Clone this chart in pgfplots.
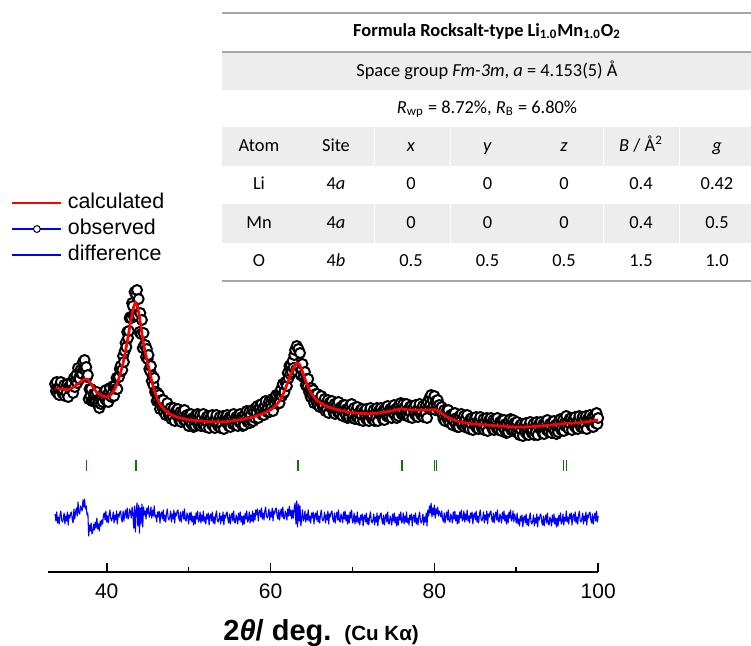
\documentclass[border=0pt]{standalone}
\usepackage{pgfplots}
\pgfplotsset{compat=1.18}
\usepackage{pgfplotstable}
\usepackage{fontspec}
\setmainfont{Liberation Sans}
\newfontfamily\calibri{Carlito}
\definecolor{bragg}{RGB}{0,128,0}
\definecolor{tgray}{RGB}{237,237,237}
\definecolor{trule}{RGB}{166,166,166}

% calculated profile
\pgfplotstableread{
x calc
33.75 257
34.00 257
34.25 256
34.50 256
34.75 256
35.00 255
35.25 255
35.50 256
35.75 257
36.00 258
36.25 260
36.50 261
36.75 263
37.00 264
37.25 266
37.50 266
37.75 265
38.00 262
38.25 259
38.50 256
38.75 253
39.00 251
39.25 250
39.50 249
39.75 248
40.00 248
40.25 249
40.50 250
40.75 253
41.00 256
41.25 261
41.50 267
41.75 274
42.00 282
42.25 292
42.50 303
42.75 315
43.00 327
43.25 337
43.50 343
43.75 339
44.00 328
44.25 314
44.50 301
44.75 291
45.00 282
45.25 273
45.50 264
45.75 256
46.00 250
46.25 245
46.50 241
46.75 238
47.00 236
47.25 234
47.50 232
47.75 231
48.00 230
48.50 228
49.00 227
49.50 226
50.00 225
51.00 224.5
52.00 223.5
53.00 223.2
54.00 223
55.00 223.7
56.00 224.8
57.00 226.3
57.50 227.3
58.00 228.4
58.50 229.7
59.00 231.2
59.50 233
60.00 235.2
60.25 236.6
60.50 238.3
60.75 240.4
61.00 243
61.25 246
61.50 250
61.75 255
62.00 260.5
62.25 266
62.50 271.5
62.75 276.5
63.00 280
63.25 282
63.50 281
63.75 277
64.00 271
64.25 265
64.50 259.5
64.75 255
65.00 251.5
65.25 248.5
65.50 246
65.75 244
66.00 242.5
66.50 240
67.00 238.2
67.50 236.8
68.00 235.6
68.50 234.6
69.00 233.8
69.50 233
70.00 232.4
71.00 231.6
72.00 231.3
73.00 231.9
74.00 233
74.50 233.7
75.00 234.5
75.50 235.5
76.00 236.2
76.50 235.6
77.00 235
78.00 234.9
79.00 235
79.50 235.2
80.00 235.5
80.25 235
80.50 234
80.75 232.5
81.00 231
81.25 229.5
81.50 228.3
81.75 227.2
82.00 226.2
82.50 224.7
83.00 223.4
83.50 222.5
84.00 221.8
85.00 220.9
86.00 220.2
87.00 219.6
88.00 219
89.00 218.4
90.00 218
91.00 218.1
92.00 218.4
93.00 219
94.00 219.8
95.00 220.6
96.00 221.6
97.00 221.9
98.00 222.5
99.00 223.6
100.00 225
}\calcdata

% observed and difference
\pgfplotstableread{
x obs diff
33.7 261 131
33.8 254 124
33.9 263 133
34.0 252 122
34.1 257 128
34.2 250 121
34.3 259 130
34.4 263 134
34.5 254 125
34.6 252 123
34.7 255 126
34.8 260 132
34.9 249 121
35.0 257 129
35.1 252 124
35.2 261 133
35.3 248 120
35.4 258 130
35.5 256 127
35.6 261 132
35.7 262 133
35.8 255 125
35.9 252 122
36.0 267 136
36.1 258 126
36.2 265 133
36.3 270 137
36.4 262 129
36.5 277 143
36.6 267 132
36.7 266 131
36.8 275 139
36.9 272 136
37.0 271 134
37.1 283 145
37.2 276 138
37.3 285 146
37.4 275 136
37.5 278 139
37.6 268 130
37.7 270 132
37.8 246 109
37.9 256 120
38.0 249 114
38.1 256 122
38.2 244 111
38.3 244 113
38.4 251 121
38.5 244 115
38.6 251 123
38.7 244 117
38.8 253 127
38.9 241 116
39.0 245 121
39.1 237 114
39.2 247 124
39.3 241 119
39.4 247 125
39.5 243 121
39.6 251 130
39.7 253 132
39.8 246 125
39.9 255 134
40.0 244 123
40.1 250 129
40.2 243 122
40.3 253 131
40.4 257 135
40.5 249 126
40.6 248 124
40.7 252 127
40.8 259 133
40.9 249 122
41.0 259 130
41.1 256 125
41.2 267 134
41.3 256 121
41.4 268 131
41.5 268 128
41.6 276 133
41.7 279 134
41.8 274 126
41.9 275 123
42.0 289 134
42.1 283 124
42.2 294 131
42.3 302 135
42.4 298 127
42.5 313 137
42.6 307 126
42.7 314 128
42.8 327 136
42.9 328 133
43.0 327 127
43.1 342 138
43.2 339 131
43.3 329 117
43.4 353 139
43.5 329 113
43.6 350 135
43.7 355 142
43.8 329 119
43.9 346 140
44.0 313 112
44.1 332 137
44.2 311 121
44.3 325 141
44.4 297 118
44.5 312 138
44.6 300 130
44.7 300 134
44.8 288 126
44.9 296 137
45.0 286 131
45.1 290 139
45.2 276 128
45.3 274 130
45.4 279 138
45.5 264 127
45.6 269 135
45.7 260 129
45.8 267 139
45.9 253 128
46.0 253 130
46.1 244 123
46.2 252 133
46.3 245 128
46.4 250 134
46.5 236 122
46.6 244 131
46.7 245 133
46.8 237 126
46.9 245 135
47.0 233 124
47.1 238 130
47.2 230 123
47.3 238 132
47.4 242 136
47.5 232 127
47.6 229 125
47.7 232 128
47.8 237 134
47.9 226 123
48.0 234 131
48.1 228 126
48.2 237 135
48.3 224 122
48.4 233 132
48.5 230 129
48.6 235 134
48.7 236 135
48.8 227 127
48.9 224 124
49.0 233 133
49.1 223 123
49.2 230 130
49.3 233 134
49.4 225 126
49.5 235 136
49.6 224 125
49.7 223 124
49.8 230 132
49.9 227 129
50.0 219 121
50.1 230 132
50.2 223 125
50.3 231 133
50.4 221 123
50.5 227 129
50.6 218 120
50.7 227 129
50.8 219 121
50.9 230 132
51.0 224 126
51.1 231 134
51.2 220 123
51.3 222 125
51.4 230 133
51.5 219 122
51.6 227 130
51.7 221 124
51.8 231 134
51.9 220 123
52.0 225 128
52.1 218 121
52.2 228 131
52.3 223 126
52.4 229 132
52.5 217 120
52.6 226 129
52.7 228 131
52.8 221 124
52.9 230 133
53.0 219 122
53.1 224 128
53.2 217 121
53.3 226 130
53.4 230 134
53.5 221 125
53.6 219 123
53.7 222 126
53.8 228 132
53.9 217 121
54.0 225 129
54.1 220 124
54.2 229 133
54.3 216 120
54.4 226 130
54.5 223 127
54.6 229 132
54.7 230 133
54.8 222 125
54.9 219 122
55.0 228 131
55.1 218 121
55.2 225 128
55.3 229 132
55.4 221 124
55.5 231 134
55.6 221 123
55.7 220 122
55.8 228 130
55.9 225 127
56.0 219 121
56.1 230 132
56.2 223 125
56.3 231 133
56.4 222 123
56.5 228 129
56.6 219 120
56.7 228 129
56.8 220 121
56.9 231 132
57.0 226 126
57.1 234 134
57.2 223 123
57.3 225 125
57.4 233 133
57.5 222 122
57.6 230 130
57.7 224 124
57.8 235 134
57.9 224 123
58.0 233 132
58.1 227 125
58.2 237 135
58.3 232 130
58.4 239 136
58.5 227 124
58.6 236 133
58.7 238 135
58.8 232 128
58.9 241 137
59.0 230 126
59.1 237 132
59.2 230 125
59.3 239 134
59.4 244 138
59.5 235 129
59.6 233 127
59.7 237 130
59.8 243 136
59.9 233 125
60.0 241 133
60.1 237 128
60.2 246 137
60.3 234 124
60.4 244 134
60.5 242 131
60.6 248 136
60.7 250 137
60.8 243 129
60.9 241 126
61.0 251 135
61.1 242 125
61.2 251 132
61.3 256 136
61.4 249 128
61.5 261 138
61.6 252 127
61.7 253 126
61.8 263 134
61.9 262 131
62.0 259 125
62.1 272 136
62.2 267 129
62.3 279 139
62.4 271 129
62.5 280 135
62.6 273 126
62.7 284 135
62.8 277 127
62.9 290 138
63.0 295 142
63.1 275 121
63.2 299 144
63.3 273 118
63.4 296 141
63.5 278 124
63.6 292 139
63.7 270 119
63.8 276 127
63.9 281 135
64.0 268 124
64.1 268 126
64.2 273 134
64.3 260 123
64.4 266 131
64.5 258 125
64.6 266 135
64.7 253 124
64.8 256 129
64.9 248 122
65.0 257 132
65.1 250 127
65.2 255 133
65.3 242 121
65.4 250 130
65.5 251 132
65.6 243 125
65.7 251 134
65.8 240 123
65.9 245 129
66.0 238 122
66.1 246 131
66.2 249 135
66.3 240 126
66.4 237 124
66.5 240 127
66.6 246 133
66.7 234 122
66.8 242 130
66.9 236 125
67.0 245 134
67.1 232 121
67.2 242 131
67.3 238 128
67.4 243 133
67.5 244 134
67.6 236 126
67.7 232 123
67.8 241 132
67.9 231 122
68.0 238 129
68.1 241 133
68.2 233 125
68.3 243 135
68.4 232 124
68.5 231 123
68.6 238 131
68.7 235 128
68.8 229 122
68.9 240 133
69.0 233 126
69.1 240 134
69.2 230 124
69.3 236 130
69.4 227 121
69.5 236 130
69.6 228 122
69.7 239 133
69.8 233 127
69.9 241 135
70.0 227 122
70.1 229 124
70.2 237 132
70.3 226 121
70.4 234 129
70.5 228 123
70.6 238 133
70.7 227 122
70.8 232 127
70.9 225 120
71.0 235 130
71.1 230 125
71.2 236 131
71.3 224 119
71.4 233 128
71.5 234 130
71.6 227 123
71.7 236 132
71.8 225 121
71.9 231 127
72.0 224 120
72.1 233 129
72.2 237 133
72.3 228 124
72.4 226 122
72.5 229 125
72.6 235 131
72.7 224 120
72.8 232 128
72.9 227 123
73.0 237 132
73.1 224 119
73.2 234 129
73.3 231 126
73.4 236 131
73.5 237 132
73.6 229 124
73.7 226 121
73.8 235 130
73.9 225 120
74.0 233 127
74.1 237 131
74.2 229 123
74.3 239 133
74.4 228 122
74.5 228 121
74.6 236 129
74.7 233 126
74.8 227 120
74.9 238 131
75.0 232 124
75.1 240 132
75.2 230 122
75.3 236 128
75.4 227 119
75.5 237 128
75.6 229 120
75.7 240 131
75.8 234 125
75.9 242 133
76.0 231 122
76.1 233 124
76.2 241 132
76.3 230 121
76.4 238 129
76.5 231 123
76.6 241 133
76.7 230 122
76.8 235 127
76.9 228 120
77.0 238 130
77.1 233 125
77.2 239 131
77.3 227 119
77.4 236 128
77.5 238 130
77.6 231 123
77.7 240 132
77.8 229 121
77.9 235 127
78.0 228 120
78.1 237 129
78.2 241 133
78.3 232 124
78.4 230 122
78.5 233 125
78.6 239 131
78.7 228 120
78.8 236 128
78.9 231 123
79.0 240 132
79.1 227 119
79.2 243 135
79.3 237 129
79.4 247 139
79.5 240 132
79.6 250 142
79.7 236 128
79.8 245 137
79.9 238 130
80.0 249 140
80.1 235 127
80.2 244 136
80.3 239 131
80.4 245 138
80.5 236 129
80.6 240 134
80.7 236 131
80.8 233 128
80.9 238 134
81.0 230 126
81.1 226 123
81.2 235 132
81.3 224 122
81.4 231 129
81.5 234 133
81.6 226 125
81.7 235 135
81.8 224 124
81.9 222 123
82.0 230 131
82.1 227 128
82.2 220 122
82.3 231 133
82.4 224 126
82.5 232 134
82.6 221 124
82.7 227 130
82.8 218 121
82.9 226 130
83.0 218 122
83.1 229 133
83.2 223 127
83.3 231 135
83.4 220 124
83.5 221 126
83.6 229 134
83.7 218 123
83.8 226 131
83.9 220 125
84.0 230 135
84.1 218 124
84.2 223 129
84.3 216 122
84.4 226 132
84.5 221 127
84.6 227 133
84.7 215 121
84.8 224 130
84.9 226 132
85.0 219 125
85.1 228 134
85.2 217 123
85.3 223 129
85.4 216 122
85.5 224 131
85.6 228 135
85.7 219 126
85.8 217 124
85.9 220 127
86.0 226 133
86.1 215 122
86.2 223 130
86.3 218 125
86.4 227 134
86.5 214 121
86.6 224 131
86.7 221 128
86.8 226 133
86.9 227 134
87.0 219 126
87.1 216 123
87.2 225 132
87.3 215 122
87.4 222 129
87.5 225 133
87.6 217 125
87.7 227 135
87.8 216 124
87.9 215 123
88.0 223 131
88.1 220 128
88.2 214 122
88.3 225 133
88.4 218 126
88.5 225 134
88.6 215 124
88.7 221 130
88.8 212 121
88.9 221 130
89.0 213 122
89.1 224 133
89.2 218 127
89.3 226 135
89.4 215 124
89.5 217 126
89.6 225 134
89.7 214 123
89.8 222 131
89.9 218 127
90.0 213 122
90.1 223 132
90.2 212 121
90.3 217 126
90.4 210 119
90.5 220 129
90.6 215 124
90.7 221 130
90.8 209 118
90.9 218 127
91.0 220 129
91.1 213 122
91.2 222 131
91.3 211 120
91.4 217 126
91.5 210 119
91.6 219 128
91.7 223 132
91.8 214 123
91.9 212 121
92.0 215 124
92.1 221 130
92.2 210 119
92.3 218 127
92.4 213 122
92.5 223 131
92.6 210 118
92.7 220 128
92.8 217 125
92.9 222 130
93.0 223 131
93.1 215 123
93.2 212 120
93.3 221 129
93.4 211 119
93.5 219 126
93.6 223 130
93.7 215 122
93.8 225 132
93.9 214 121
94.0 213 120
94.1 221 128
94.2 218 125
94.3 212 119
94.4 223 130
94.5 216 123
94.6 224 131
94.7 214 121
94.8 220 127
94.9 211 118
95.0 221 127
95.1 213 119
95.2 224 130
95.3 218 124
95.4 226 132
95.5 215 121
95.6 217 123
95.7 225 131
95.8 214 120
95.9 222 128
96.0 219 124
96.1 229 134
96.2 218 123
96.3 223 128
96.4 216 121
96.5 226 131
96.6 221 126
96.7 227 132
96.8 215 120
96.9 224 129
97.0 226 131
97.1 219 124
97.2 228 133
97.3 217 122
97.4 223 128
97.5 216 121
97.6 225 130
97.7 229 134
97.8 220 125
97.9 218 123
98.0 222 126
98.1 228 132
98.2 217 121
98.3 225 129
98.4 220 124
98.5 229 133
98.6 216 120
98.7 226 130
98.8 223 127
98.9 228 132
99.0 230 133
99.1 222 125
99.2 219 122
99.3 228 131
99.4 218 121
99.5 225 128
99.6 230 132
99.7 222 124
99.8 232 134
99.9 221 123
100.0 227 129
}\obsdata

\begin{document}
\begin{tikzpicture}
\useasboundingbox (0,0) rectangle (375.5pt,322.5pt);
\begin{axis}[
  at={(24.15pt,36.35pt)}, anchor=south west,
  scale only axis, width=274.95pt, height=286.15pt,
  xmin=32.87, xmax=100, ymin=72.7, ymax=645,
  axis x line*=bottom, axis y line=none,
  x axis line style={line width=0.85pt},
  xtick={40,60,80,100}, minor xtick={50,70,90}, ytick=\empty,
  tick align=inside, major tick length=4.5pt, minor tick length=2.5pt,
  tick style={black, line width=0.85pt},
  xticklabel style={font=\fontsize{10.5}{12}\selectfont, yshift=-2pt},
  /pgf/number format/assume math mode=true,
  clip=false, clip marker paths=true,
  legend image code/.code={\draw[mark repeat=2,mark phase=2,#1] plot coordinates {(0pt,0pt)(12.25pt,0pt)(24.5pt,0pt)};},
  legend style={draw=none, fill=none, at={(-0.079,0.673)}, anchor=north west,
    font=\fontsize{10.7}{12}\selectfont, legend cell align=left,
    nodes={inner sep=0.5pt, text height=8pt, text depth=2.5pt},
    row sep=1.5pt, column sep=2.2pt},
]
\addlegendimage{red, line width=1.1pt}
\addlegendentry{calculated}
\addlegendimage{blue, line width=0.6pt, mark=*, mark size=1.7pt, mark options={draw=black, fill=white, line width=0.5pt}}
\addlegendentry{observed}
\addlegendimage{blue, line width=0.6pt}
\addlegendentry{difference}

\addplot[only marks, mark=*, mark size=2.5pt, mark options={draw=black, fill=white, line width=1pt}, forget plot] table[x=x,y=obs]{\obsdata};
\addplot[red, line width=1.35pt, line join=round, forget plot] table[x=x,y=calc]{\calcdata};
\addplot[blue, line width=0.55pt, line join=round, forget plot] table[x=x,y=diff]{\obsdata};
\addplot[only marks, mark=|, mark size=2.75pt, mark options={line width=0.4pt}, color=bragg, forget plot] coordinates {(37.48,179.5) (37.57,179.5) (43.55,179.5) (43.66,179.5) (63.29,179.5) (63.46,179.5) (75.92,179.5) (76.14,179.5) (79.96,179.5) (80.20,179.5) (95.80,179.5) (96.10,179.5)};
\end{axis}

\begin{scope}[x=0.5pt, y=-0.5pt, shift={(0pt,322.5pt)}]
  \fill[tgray] (222,51.5) rectangle (751,90);
  \fill[tgray] (222,126.7) rectangle (751,165.7);
  \fill[tgray] (222,204) rectangle (751,242.7);
  \foreach \xx in {374.8,450.3,603.3,679.5} {
    \draw[white, line width=0.5pt] (\xx,126.7) -- (\xx,165.7);
    \draw[white, line width=0.5pt] (\xx,204) -- (\xx,242.7);
  }
  \draw[trule, line width=1pt] (222,13.3) -- (751,13.3);
  \draw[trule, line width=1pt] (222,51.5) -- (751,51.5);
  \draw[trule, line width=1pt] (222,280.7) -- (751,280.7);
  \begin{scope}[every node/.style={anchor=base, inner sep=0pt, font=\calibri\fontsize{9.2}{11}\selectfont}]
    \node[font=\calibri\fontsize{9.2}{11}\selectfont\bfseries] at (487,36.7) {Formula Rocksalt-type Li\textsubscript{1.0}Mn\textsubscript{1.0}O\textsubscript{2}};
    \node at (487,76) {Space group \textit{Fm-3m}, \textit{a} = 4.153(5) Å};
    \node at (487,113.3) {\textit{R}\textsubscript{wp} = 8.72\%, \textit{R}\textsubscript{B} = 6.80\%};
    \node at (259,151.7) {Atom};
    \node at (336,151.7) {Site};
    \node at (411,151.7) {\textit{x}};
    \node at (487.5,151.7) {\textit{y}};
    \node at (564,151.7) {\textit{z}};
    \node at (641,151.7) {\textit{B} / Å\textsuperscript{2}};
    \node at (717,151.7) {\textit{g}};
    \node at (259,189.3) {Li};
    \node at (336,189.3) {4\textit{a}};
    \node at (411,189.3) {0};
    \node at (487.5,189.3) {0};
    \node at (564,189.3) {0};
    \node at (641,189.3) {0.4};
    \node at (717,189.3) {0.42};
    \node at (259,228.3) {Mn};
    \node at (336,228.3) {4\textit{a}};
    \node at (411,228.3) {0};
    \node at (487.5,228.3) {0};
    \node at (564,228.3) {0};
    \node at (641,228.3) {0.4};
    \node at (717,228.3) {0.5};
    \node at (259,266.3) {O};
    \node at (336,266.3) {4\textit{b}};
    \node at (411,266.3) {0.5};
    \node at (487.5,266.3) {0.5};
    \node at (564,266.3) {0.5};
    \node at (641,266.3) {1.5};
    \node at (717,266.3) {1.0};
  \end{scope}
  \node[anchor=base west, inner sep=0pt] at (223,640) {\fontsize{14.5}{16}\selectfont\bfseries 2\textit{θ}/ deg.\hspace{6.5pt}{\fontsize{10.3}{12}\selectfont (Cu Kα)}};
\end{scope}
\end{tikzpicture}
\end{document}
